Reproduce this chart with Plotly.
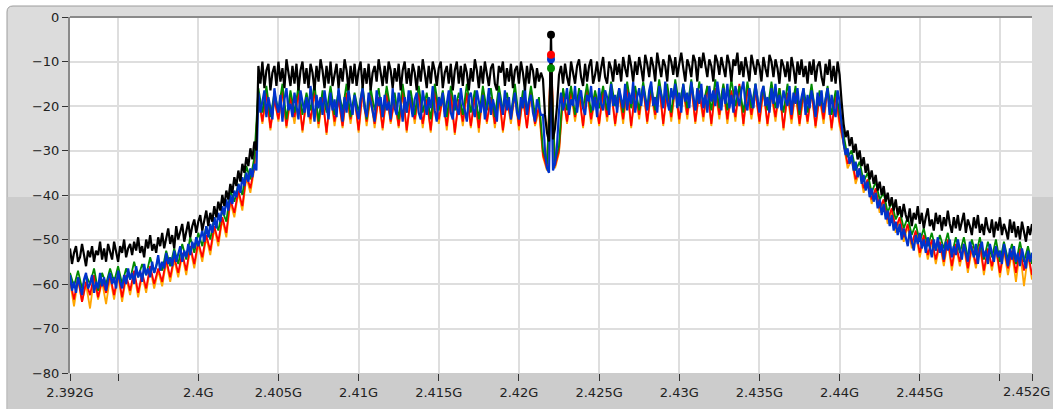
import plotly.graph_objects as go

# ---------------- data ----------------
# frequency grids: 2.392 GHz .. 2.452 GHz
freq_fine_ghz = [round(2.392 + 0.000125 * k, 6) for k in range(481)]     # 0.125 MHz step
freq_coarse_ghz = [round(2.392 + 0.00025 * k, 6) for k in range(241)]    # 0.25 MHz step

# black & blue traces (fine grid, 481 points)
black_dbm = [
    # left skirt (94)
    -52, -55.5, -53, -51.5, -55, -54, -51, -53.5, -56, -52.5,
    -54, -51.5, -55, -52.5, -53.5, -50.5, -54.5, -52, -55, -51,
    -53, -54.5, -50.5, -52.5, -55, -51.5, -53, -50, -54, -52,
    -51, -53.5, -50.5, -52.5, -49.5, -53, -51.5, -54, -50, -52,
    -49, -52.5, -51, -53, -49.5, -51.5, -48.5, -52, -50, -47.5,
    -51, -49, -52, -47, -50, -48.5, -46.5, -50.5, -48, -46,
    -49.5, -47, -45.5, -48.5, -46, -44.5, -48, -45.5, -43.5, -47,
    -44, -46, -42.5, -45, -41.5, -43.5, -40, -42.5, -39, -41,
    -37.5, -39.5, -36, -38, -34.5, -37, -33, -35, -31.5, -33.5,
    -29.5, -32, -28, -30,
    # left band (142)
    -11, -15, -10, -16, -12, -10.5, -16.5, -12.5, -11, -15.5,
    -10, -14.5, -11.5, -16, -9.5, -12.5, -15.5, -11, -15, -10.5,
    -16.5, -12, -10, -15, -11.5, -16, -10.5, -12.5, -16.5, -11,
    -14.5, -9.5, -12, -16, -11, -15, -10, -15.5, -12.5, -10.5,
    -16, -11.5, -14.5, -9.5, -12, -16.5, -11, -15, -10.5, -15.5,
    -12, -10, -16, -11.5, -15, -10.5, -16.5, -12.5, -11, -14.5,
    -9.5, -12.5, -15.5, -11, -15, -10, -12, -16, -11.5, -14.5,
    -10.5, -16.5, -12, -10, -15, -11.5, -15.5, -10.5, -12.5, -16.5,
    -11, -14.5, -9.5, -12.5, -16, -11, -15, -10, -12, -15.5,
    -11.5, -10, -16, -12.5, -11, -15, -10.5, -16.5, -12, -10,
    -15, -11, -15.5, -10.5, -12.5, -16.5, -11.5, -14.5, -9.5, -12,
    -16, -11, -15, -10, -12.5, -15.5, -11.5, -10.5, -15, -16.5,
    -11, -12.5, -10, -15.5, -11.5, -14.5, -10.5, -16, -12, -11,
    -15, -10, -12.5, -16.5, -11, -15, -10.5, -12, -16, -11.5,
    -14.5, -12.5,
    # notch + carrier (9)
    -14, -22, -26, -28, -4, -27.5, -25, -20, -13,
    # right band (140)
    -11, -15, -10.5, -13.5, -15.5, -10, -13, -15, -11, -9.5,
    -13.5, -15.5, -10.5, -14.5, -11, -9.5, -15, -13, -10, -14.5,
    -11.5, -9, -13.5, -15, -10, -11.5, -14.5, -9.5, -13, -10.5,
    -14.5, -9, -11.5, -13.5, -8.5, -11, -14.5, -10, -13, -9,
    -11.5, -14.5, -8.5, -10.5, -13.5, -9, -11, -14.5, -8, -10.5,
    -13.5, -9.5, -11, -14.5, -8.5, -10, -13, -9, -13.5, -10.5,
    -8, -11.5, -14.5, -9.5, -11, -13.5, -8.5, -10, -14.5, -9,
    -11.5, -8, -10.5, -13.5, -9.5, -11, -14.5, -8.5, -10, -13,
    -9, -11.5, -13.5, -8.5, -10.5, -14.5, -9.5, -11, -8, -13,
    -10, -13.5, -9, -11.5, -14.5, -8.5, -10.5, -13, -9.5, -11,
    -14.5, -9, -11.5, -13.5, -8.5, -10, -13.5, -9.5, -11.5, -15,
    -9.5, -11, -13.5, -10, -14.5, -9, -11.5, -15, -10, -13,
    -9.5, -13.5, -11, -15, -10, -13, -9.5, -14.5, -11, -10,
    -13.5, -15.5, -10.5, -13, -9.5, -14.5, -11, -15, -10, -13,
    # right skirt (96)
    -19, -24, -27, -25.5, -29, -27, -30.5, -28.5, -32, -30,
    -33.5, -31.5, -35, -33, -36.5, -34.5, -37.5, -35.5, -39, -37,
    -40, -38, -41.5, -39.5, -42.5, -40.5, -43.5, -41, -44.5, -42.5,
    -45, -42, -44.5, -46, -43, -47, -44, -45.5, -42.5, -46.5,
    -44, -47.5, -45, -43, -47, -45.5, -48, -44, -46.5, -44.5,
    -48, -45, -47, -43.5, -46.5, -48.5, -45, -47.5, -44.5, -48,
    -46, -44, -48.5, -45.5, -47, -49, -45, -47.5, -44.5, -48.5,
    -46.5, -49, -45, -47.5, -48.5, -45.5, -49.5, -46, -48, -45,
    -49, -46.5, -48, -50, -45.5, -48.5, -46, -49.5, -47, -50,
    -46, -48.5, -50.5, -47, -49, -46.5,
]

blue_dbm = [
    # left skirt (94)
    -58, -61.5, -59.5, -62, -58.5, -60.5, -62.5, -59, -57.5, -61,
    -60, -58, -62, -59.5, -61, -57.5, -60.5, -58.5, -61.5, -59,
    -57.5, -60, -58.5, -61, -57, -59.5, -61, -58, -60, -56.5,
    -59, -57.5, -60, -56, -58.5, -57, -59.5, -55.5, -58, -56.5,
    -58.5, -55, -57.5, -56, -53.5, -57, -55, -56.5, -53, -55.5,
    -54, -56, -52.5, -55, -53.5, -51.5, -55, -52.5, -54, -51,
    -53.5, -50.5, -52, -49.5, -51.5, -50, -48, -50.5, -47, -49.5,
    -46.5, -48.5, -45, -47.5, -44, -46, -42.5, -44.5, -41, -43.5,
    -40, -42, -39, -40.5, -37.5, -39.5, -36, -38, -35, -37,
    -34, -36, -33, -34.5,
    # left band (142)
    -17, -21.5, -19, -16.5, -22.5, -18, -20.5, -23, -16, -19.5,
    -21.5, -17.5, -23.5, -18.5, -16, -21, -19.5, -22.5, -17, -20,
    -23, -16.5, -19, -21.5, -18, -22.5, -15.5, -20, -23.5, -17.5,
    -20.5, -18, -22, -16.5, -19.5, -23, -17, -21, -18.5, -22.5,
    -16, -20, -23.5, -18, -21.5, -16.5, -19.5, -22, -17.5, -21,
    -23, -18.5, -16, -20.5, -22.5, -17, -19, -21.5, -23.5, -16.5,
    -20, -18, -22.5, -17.5, -21, -19, -23, -16, -20.5, -22,
    -17, -19.5, -23.5, -18, -21.5, -16.5, -20, -22.5, -18.5, -17,
    -21.5, -23, -16.5, -19.5, -22, -18, -20.5, -15.5, -21, -23.5,
    -18, -20, -17, -22.5, -19, -16.5, -21.5, -23, -17.5, -20.5,
    -22, -16, -19.5, -21, -23.5, -18, -17, -20.5, -22.5, -16.5,
    -19, -21.5, -17.5, -23, -20, -16, -22, -18.5, -20.5, -23.5,
    -17, -19.5, -22, -16.5, -21, -18, -23, -19.5, -17, -21.5,
    -23, -18, -20.5, -16, -22, -19, -17.5, -21.5, -23.5, -18.5,
    -20, -22,
    # notch + carrier (9)
    -22, -30, -34, -35, -9.5, -34.5, -33, -29, -21,
    # right band (140)
    -17, -21, -19, -16, -22, -18.5, -20, -15.5, -21.5, -18,
    -16.5, -20.5, -22, -17.5, -19, -15.5, -21, -18, -22.5, -16,
    -19.5, -21, -16.5, -18, -22, -15, -20, -17.5, -21.5, -16,
    -18.5, -20.5, -15, -21, -17, -19.5, -14.5, -21.5, -18, -16,
    -20, -15.5, -18.5, -21, -16.5, -14.5, -20, -18, -21.5, -15.5,
    -17.5, -20.5, -14.5, -19, -21, -16, -18.5, -15, -20.5, -17,
    -21.5, -15, -19, -17, -20.5, -14.5, -18, -21, -16, -19.5,
    -15, -20.5, -17.5, -21.5, -15.5, -19, -16.5, -20, -14.5, -18.5,
    -21, -16, -19.5, -15, -20.5, -17.5, -21.5, -15.5, -18, -20,
    -16.5, -14.5, -19.5, -21, -16, -18.5, -20.5, -15, -19, -21.5,
    -17, -15.5, -20, -18, -21.5, -16, -19.5, -15, -20.5, -17.5,
    -21, -16.5, -18.5, -20, -15.5, -22, -17, -19.5, -16, -21,
    -18, -16, -22, -17.5, -20.5, -16.5, -19, -22.5, -17, -20,
    -16.5, -21.5, -18.5, -16, -22, -17.5, -20.5, -22.5, -16.5, -19,
    # right skirt (96)
    -24, -28.5, -31, -29.5, -33, -31, -34.5, -32.5, -36, -34,
    -37.5, -35.5, -39, -37, -40.5, -38.5, -41.5, -39.5, -43, -41,
    -44.5, -42, -45.5, -43.5, -47, -44.5, -48, -46, -49, -46.5,
    -50, -47.5, -49.5, -51.5, -48, -50.5, -52.5, -49, -51, -48.5,
    -52, -50, -53, -49.5, -51.5, -54, -50, -52.5, -49.5, -53,
    -51, -54.5, -50.5, -52.5, -50, -54, -51.5, -53.5, -50, -52,
    -54.5, -51, -53, -55, -50.5, -52.5, -54, -51, -55.5, -52,
    -50.5, -54, -52.5, -55.5, -51, -53, -55, -51.5, -54, -52.5,
    -55.5, -51, -53.5, -56, -52, -54.5, -51.5, -55, -53, -56,
    -52, -54.5, -56.5, -52.5, -55, -53,
]

# red, green, orange traces (coarse grid, 241 points)
red_dbm = [
    -59, -63.5, -58.5, -64, -59.5, -62.5, -58, -63, -59, -62,
    -58, -62.5, -57.5, -63, -58, -61.5, -57, -62, -57.5, -61,
    -56, -60, -56.5, -59.5, -54.5, -58.5, -54, -57.5, -53, -57,
    -51.5, -55.5, -50.5, -54, -49, -52.5, -47, -50.5, -45, -48.5,
    -41, -44, -39, -42.5, -35.5, -38.5, -33.5,
    -17.5, -23.5, -17, -25, -18.5, -23, -16.5, -24.5, -18, -22.5,
    -17, -25.5, -18.5, -23, -16.5, -24, -18, -26, -17, -23.5,
    -18.5, -24.5, -17, -23, -18, -25.5, -16.5, -23.5, -17.5, -24,
    -18, -25, -17, -23.5, -18.5, -24.5, -16.5, -25.5, -18, -23,
    -17, -24, -18.5, -25.5, -16.5, -23, -18, -24.5, -17, -26,
    -18.5, -23.5, -17, -24.5, -18, -25, -16.5, -23.5, -18, -24,
    -17, -25.5, -18.5, -23, -17, -24.5, -18, -25, -16.5, -24, -20,
    -31, -34, -8.5, -33.5, -30,
    -17.5, -23.5, -16.5, -22.5, -17, -24.5, -16, -23, -17.5, -24,
    -16.5, -22.5, -16, -24, -17, -23, -15.5, -24.5, -16.5, -22,
    -15.5, -23.5, -16.5, -22, -15, -24, -16, -22.5, -15.5, -23,
    -16, -22, -15, -23.5, -16.5, -22.5, -15.5, -24, -16, -22,
    -15.5, -23, -16.5, -22.5, -15, -24, -16, -22, -16.5, -23.5,
    -16, -24, -17, -22.5, -16, -25, -17, -23, -16.5, -24,
    -17, -23.5, -16.5, -24.5, -17.5, -23, -16, -25, -17.5, -23.5,
    -28, -33, -31.5, -36.5, -34, -38.5, -36.5, -41, -38.5, -43,
    -41, -45.5, -43, -47.5, -45, -49.5, -46.5, -51, -48, -53,
    -49, -53.5, -50, -54.5, -50.5, -55, -50, -56, -51, -55,
    -51, -56.5, -51.5, -55.5, -51, -57, -52, -56, -51.5, -57.5,
    -52, -56.5, -52.5, -57.5, -52, -57, -53, -58,
]

green_dbm = [
    -57.5, -60.5, -57, -61, -58, -60, -56.5, -61.5, -57.5, -60,
    -56.5, -59.5, -56, -60, -56.5, -59, -55, -58.5, -55.5, -58,
    -54, -57.5, -54.5, -57, -52.5, -56, -52, -55.5, -51, -54.5,
    -49.5, -53, -48.5, -51.5, -47, -50, -45, -48, -43.5, -46,
    -39, -41.5, -37.5, -40, -33.5, -36.5, -31.5,
    -16, -21.5, -15.5, -22.5, -17, -21, -15, -23, -16.5, -21.5,
    -15.5, -22, -17, -21, -15, -23.5, -16.5, -21.5, -15.5, -22,
    -16.5, -21, -15, -22.5, -17, -21.5, -15.5, -23, -16, -21,
    -16, -22.5, -15.5, -21, -17, -23, -15, -21.5, -16.5, -22,
    -15.5, -21.5, -17, -23, -15, -21, -16.5, -22.5, -15.5, -21,
    -17, -22, -15, -21.5, -16.5, -23, -15.5, -21, -16, -22.5,
    -15.5, -21, -17, -22, -15, -23, -16.5, -21.5, -15.5, -22, -18,
    -30, -33, -11.5, -32.5, -29,
    -16, -21, -15.5, -22, -16, -20.5, -15, -21.5, -16.5, -20.5,
    -15.5, -21, -14.5, -20, -16, -21.5, -14.5, -20.5, -15.5, -21,
    -14.5, -20.5, -15.5, -21, -14, -20, -15, -21.5, -14, -20,
    -15, -20.5, -14, -21, -14.5, -19.5, -15.5, -21, -14, -20.5,
    -15, -21, -14, -20, -15.5, -21.5, -14.5, -20.5, -15, -21,
    -15.5, -21, -14.5, -20.5, -16, -21.5, -15, -21, -15.5, -22,
    -16, -21.5, -15, -22, -16.5, -21, -15.5, -22, -16.5, -21.5,
    -26.5, -31.5, -30, -34.5, -32.5, -37, -35, -39.5, -37, -41,
    -39.5, -44, -41.5, -45.5, -43.5, -47.5, -45, -49, -46.5, -50.5,
    -47.5, -51.5, -48.5, -52.5, -49, -52, -48.5, -53.5, -49.5, -53,
    -49.5, -54, -50, -53.5, -49.5, -54.5, -50.5, -54, -50, -55,
    -50.5, -54.5, -51, -55.5, -50.5, -55, -51.5, -55.5,
]

orange_dbm = [
    -59.5, -65, -59, -64, -60, -65.5, -58.5, -63.5, -59.5, -64.5,
    -58.5, -63.5, -58, -64, -58.5, -62.5, -57.5, -63, -58, -62,
    -56.5, -61, -57, -60.5, -55, -59.5, -54.5, -58.5, -53.5, -58,
    -52, -56.5, -51, -55, -49.5, -53.5, -47.5, -51.5, -45.5, -49.5,
    -41.5, -45, -39.5, -43.5, -36, -39.5, -34,
    -18, -24, -17.5, -25.5, -18.5, -23.5, -17, -25, -18.5, -24,
    -17.5, -26, -18.5, -24, -17, -25, -18, -26.5, -17.5, -24.5,
    -18.5, -25, -17.5, -24, -18, -26, -17, -24.5, -18, -25,
    -18, -25.5, -17.5, -24, -18.5, -25, -17, -26, -18, -24,
    -17.5, -25, -18.5, -26, -17, -24, -18, -25.5, -17.5, -26.5,
    -18.5, -24.5, -17.5, -25, -18, -26, -17, -24, -18, -25,
    -17.5, -26, -18.5, -24, -17.5, -25.5, -18, -25, -17, -24.5, -21,
    -31.5, -34.5, -8.8, -34, -30.5,
    -18, -24, -17, -23.5, -17.5, -25, -16.5, -24, -18, -24.5,
    -17, -23.5, -16.5, -24.5, -17.5, -24, -16, -25, -17, -23,
    -16, -24, -17, -23, -15.5, -24.5, -16.5, -23.5, -16, -24,
    -16.5, -23, -15.5, -24, -17, -23.5, -16, -24.5, -16.5, -23,
    -16, -24, -17, -23.5, -15.5, -24.5, -16.5, -23, -17, -24,
    -16.5, -24.5, -17.5, -23.5, -16.5, -25.5, -17.5, -24, -17, -24.5,
    -17.5, -24, -17, -25, -18, -24, -16.5, -25.5, -18, -24.5,
    -28.5, -34, -32, -37.5, -34.5, -39.5, -37, -42, -39, -44,
    -41.5, -46.5, -43.5, -48.5, -45.5, -50.5, -47, -52, -48.5, -54,
    -49.5, -54.5, -50.5, -55.5, -51, -56, -50.5, -57, -51.5, -56,
    -51.5, -57.5, -52, -56.5, -51.5, -58, -52.5, -57, -52, -58.5,
    -52.5, -58, -53, -59.5, -52.5, -60.5, -53.5, -59,
]

# drawing order: bottom -> top  (name, x grid, values, colour, line width)
series = [
    ("orange", freq_coarse_ghz, orange_dbm, "#ffa500", 1.8),
    ("red", freq_coarse_ghz, red_dbm, "#ff0000", 1.8),
    ("green", freq_coarse_ghz, green_dbm, "#008a00", 1.8),
    ("blue", freq_fine_ghz, blue_dbm, "#0033cc", 2.2),
    ("black", freq_fine_ghz, black_dbm, "#000000", 2.2),
]
marker_order = ["orange", "green", "blue", "red", "black"]

x_tick_vals = [2.392, 2.395, 2.4, 2.405, 2.41, 2.415, 2.42, 2.425, 2.43, 2.435, 2.44, 2.445, 2.45, 2.452]
x_tick_text = ["2.392G", "", "2.4G", "2.405G", "2.41G", "2.415G", "2.42G", "2.425G",
               "2.43G", "2.435G", "2.44G", "2.445G", "", ""]
last_tick_label = "2.452G"
y_tick_vals = [0, -10, -20, -30, -40, -50, -60, -70, -80]

# ---------------- figure ----------------
W, H = 1053, 409
ML, MR, MT, MB = 70, 21, 17, 36
PW, PH = W - ML - MR, H - MT - MB


def px(x):
    return (x - ML) / PW


def py(y):
    return (H - MB - y) / PH


fig = go.Figure()
for name, xs, vals, col, lw in series:
    fig.add_trace(go.Scatter(x=xs, y=vals, mode="lines", name=name,
                             line=dict(color=col, width=lw), hoverinfo="skip"))

lookup = {name: (xs, vals, col) for name, xs, vals, col, lw in series}
for name in marker_order:
    xs, vals, col = lookup[name]
    i = vals.index(max(vals))
    fig.add_trace(go.Scatter(x=[xs[i]], y=[vals[i]], mode="markers",
                             marker=dict(color=col, size=8), hoverinfo="skip"))

# panel background with rounded top-left corner
x0, x1 = px(7), px(W + 2)
y0, y1 = py(H + 2), py(6)
rx, ry = 6 / PW, 6 / PH
panel_path = (f"M {x0},{y0} L {x0},{y1 - ry} Q {x0},{y1} {x0 + rx},{y1} "
              f"L {x1},{y1} L {x1},{y0} Z")
shapes = [
    dict(type="path", path=panel_path, xref="paper", yref="paper",
         fillcolor="#dcdcdc", line=dict(color="#9c9c9c", width=1), layer="below"),
    dict(type="rect", xref="paper", yref="paper", x0=px(7.6), x1=px(W + 2),
         y0=py(H + 2), y1=py(197), fillcolor="#cccccc", line=dict(width=0), layer="below"),
    dict(type="rect", xref="paper", yref="paper", x0=0, x1=1, y0=0, y1=1,
         fillcolor="#ffffff", line=dict(width=0), layer="below"),
    dict(type="line", xref="paper", yref="paper", x0=0, x1=1, y0=1, y1=1,
         line=dict(color="#8a8a8a", width=2), layer="above"),
]

fig.update_layout(
    width=W, height=H,
    margin=dict(l=ML, r=MR, t=MT, b=MB, pad=0, autoexpand=False),
    paper_bgcolor="#ffffff",
    plot_bgcolor="rgba(0,0,0,0)",
    showlegend=False,
    hovermode=False,
    shapes=shapes,
    font=dict(family="DejaVu Sans", size=13, color="#222222"),
    annotations=[dict(text=last_tick_label, xref="paper", yref="paper",
                      x=px(1052), y=py(391), xanchor="right", yanchor="middle",
                      showarrow=False, font=dict(family="DejaVu Sans", size=13, color="#222222"))],
)
fig.update_xaxes(range=[2.392, 2.452], tickmode="array", tickvals=x_tick_vals,
                 ticktext=x_tick_text, ticks="outside", ticklen=7, tickwidth=1,
                 tickcolor="#333333", showgrid=True, gridcolor="#dedede", gridwidth=2,
                 zeroline=False, showline=False, fixedrange=True, automargin=False)
fig.update_yaxes(range=[-80, 0], tickmode="array", tickvals=y_tick_vals,
                 ticks="outside", ticklen=6, tickwidth=1, tickcolor="#333333",
                 showgrid=True, gridcolor="#dedede", gridwidth=2, zeroline=False,
                 showline=True, linecolor="#8a8a8a", linewidth=2, fixedrange=True,
                 automargin=False)

fig.write_html("out.html", config={"displayModeBar": False, "staticPlot": True},
               post_script="document.body.style.margin='0';document.body.style.overflow='hidden';")
